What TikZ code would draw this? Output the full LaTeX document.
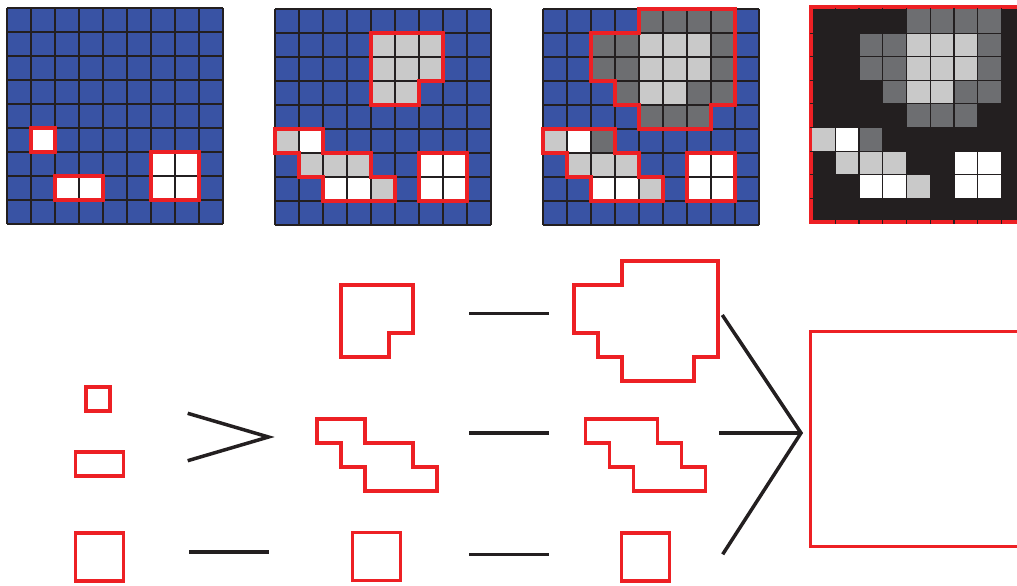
\documentclass[tikz,border=0pt]{standalone}
\definecolor{cellblue}{HTML}{3953A4}
\definecolor{markred}{HTML}{ED2024}
\definecolor{lightcell}{HTML}{C9C9C9}
\definecolor{darkcell}{HTML}{6D6E71}
\definecolor{inkblack}{HTML}{231F20}

\tikzset{
  gridline/.style={draw=inkblack, line width=1.1pt},
  regionmark/.style={draw=markred, line width=3.6pt, line join=miter},
  outline/.style={draw=markred, line width=3.2pt, line join=miter},
  joinline/.style={draw=inkblack, line width=3.5pt},
}

% fill a list of cells given as column/row
\newcommand\paintcells[2]{\foreach \cx/\cy in {#2} {\fill[#1] (\cx,\cy) rectangle ++(1,1);}}
% 9x9 lattice of cell borders
\newcommand\cellgrid{\foreach \k in {0,...,9} {\draw[gridline] (\k,0) -- (\k,9); \draw[gridline] (0,\k) -- (9,\k);}}
% region outlines, in cell units
\newcommand\stairsmall{(0,0) -- (2,0) -- (2,1) -- (4,1) -- (4,2) -- (5,2) -- (5,3) -- (2,3) -- (2,2) -- (1,2) -- (1,1) -- (0,1) -- cycle}
\newcommand\stairlarge{(0,0) -- (3,0) -- (3,1) -- (4,1) -- (4,2) -- (5,2) -- (5,3) -- (2,3) -- (2,2) -- (1,2) -- (1,1) -- (0,1) -- cycle}
\newcommand\notchpath{(0,0) -- (3,0) -- (3,2) -- (2,2) -- (2,3) -- (0,3) -- cycle}
\newcommand\blobpath{(2,0) -- (6,0) -- (6,4) -- (5,4) -- (5,5) -- (2,5) -- (2,4) -- (1,4) -- (1,3) -- (0,3) -- (0,1) -- (2,1) -- cycle}

\begin{document}
\begin{tikzpicture}[x=1pt, y=-1pt]
\useasboundingbox (0,0) rectangle (1017,586);
\clip (0,0) rectangle (1017,586);

% ---- first grid: bright seed cells
\begin{scope}[shift={(7pt,-8pt)}, x=24pt, y=-24pt]
  \fill[cellblue] (0,0) rectangle (9,9);
  \paintcells{white}{1/5,2/7,3/7,6/6,7/6,6/7,7/7}
  \cellgrid
  \draw[regionmark] (1,5) rectangle (2,6);
  \draw[regionmark] (2,7) rectangle (4,8);
  \draw[regionmark] (6,6) rectangle (8,8);
\end{scope}

% ---- second grid: regions grown by one level
\begin{scope}[shift={(275pt,-9pt)}, x=24pt, y=-24pt]
  \fill[cellblue] (0,0) rectangle (9,9);
  \paintcells{lightcell}{4/1,5/1,6/1,4/2,5/2,6/2,4/3,5/3,0/5,1/6,2/6,3/6,4/7}
  \paintcells{white}{1/5,2/7,3/7,6/6,7/6,6/7,7/7}
  \cellgrid
  \draw[regionmark, shift={(4,1)}] \notchpath;
  \draw[regionmark, shift={(0,5)}] \stairsmall;
  \draw[regionmark] (6,6) rectangle (8,8);
\end{scope}

% ---- third grid: regions grown by two levels
\begin{scope}[shift={(543pt,-9pt)}, x=24pt, y=-24pt]
  \fill[cellblue] (0,0) rectangle (9,9);
  \paintcells{darkcell}{4/0,5/0,6/0,7/0,2/1,3/1,7/1,2/2,3/2,7/2,3/3,6/3,7/3,4/4,5/4,6/4,2/5}
  \paintcells{lightcell}{4/1,5/1,6/1,4/2,5/2,6/2,4/3,5/3,0/5,1/6,2/6,3/6,4/7}
  \paintcells{white}{1/5,2/7,3/7,6/6,7/6,6/7,7/7}
  \cellgrid
  \draw[regionmark, shift={(2,0)}] \blobpath;
  \draw[regionmark, shift={(0,5)}] \stairlarge;
  \draw[regionmark] (6,6) rectangle (8,8);
\end{scope}

% ---- fourth grid: all levels on a dark field
\draw[markred, line width=3.8pt, fill=inkblack] (810.8,7.3) rectangle (1030,222);
\begin{scope}[shift={(811.5pt,-9.5pt)}, x=23.75pt, y=-23.6pt]
  \paintcells{darkcell}{4/0,5/0,6/0,7/0,2/1,3/1,7/1,2/2,3/2,7/2,3/3,6/3,7/3,4/4,5/4,6/4,2/5}
  \paintcells{lightcell}{4/1,5/1,6/1,4/2,5/2,6/2,4/3,5/3,0/5,1/6,2/6,3/6,4/7}
  \paintcells{white}{1/5,2/7,3/7,6/6,7/6,6/7,7/7}
  \foreach \k in {1,...,8} {
    \draw[gridline] (\k,-0.07) -- (\k,9.07);
    \draw[gridline] (-0.07,\k) -- (9,\k);
  }
\end{scope}

% ---- lower part: region outlines through the levels
% first column: seed regions
\draw[outline] (86,387) rectangle (110,411);
\draw[outline] (75.5,452) rectangle (123.5,476);
\draw[outline] (75.3,533) rectangle (123.3,581);

% second column
\begin{scope}[shift={(341pt,-285pt)}, x=24pt, y=-24pt]
  \draw[outline] \notchpath;
\end{scope}
\begin{scope}[shift={(317pt,-419pt)}, x=24pt, y=-24pt]
  \draw[outline] \stairsmall;
\end{scope}
\draw[outline] (352.7,532.5) rectangle (400.7,580.5);

% third column
\begin{scope}[shift={(574pt,-261pt)}, x=24pt, y=-24pt]
  \draw[outline] \blobpath;
\end{scope}
\begin{scope}[shift={(585.3pt,-419pt)}, x=24pt, y=-24pt]
  \draw[outline] \stairlarge;
\end{scope}
\draw[outline] (621.5,533) rectangle (669.5,581);

% final region
\draw[outline] (810.7,331.7) rectangle (1026,546.7);

% connecting strokes
\coordinate (mergeA) at (187.7,413.3);
\coordinate (mergeB) at (187.7,460.7);
\coordinate (mergeTip) at (268.5,437);
\draw[joinline, line join=miter] (mergeA) -- (mergeTip) -- (mergeB);

\coordinate (lowA) at (189.3,552);
\coordinate (lowB) at (269,552);
\draw[joinline] (lowA) -- (lowB);

\coordinate (topC) at (469,313.7);
\coordinate (topD) at (548.7,313.7);
\draw[joinline] (topC) -- (topD);

\coordinate (midC) at (469,433);
\coordinate (midD) at (548.7,433);
\draw[joinline] (midC) -- (midD);

\coordinate (lowC) at (469,554.3);
\coordinate (lowD) at (548.7,554.3);
\draw[joinline] (lowC) -- (lowD);

\coordinate (finTop) at (722.3,315);
\coordinate (finMid) at (719,433);
\coordinate (finLow) at (722.7,554.3);
\coordinate (finTip) at (801,433);
\draw[joinline, line join=miter] (finTop) -- (finTip) -- (finLow);
\draw[joinline] (finMid) -- (finTip);
\end{tikzpicture}
\end{document}
